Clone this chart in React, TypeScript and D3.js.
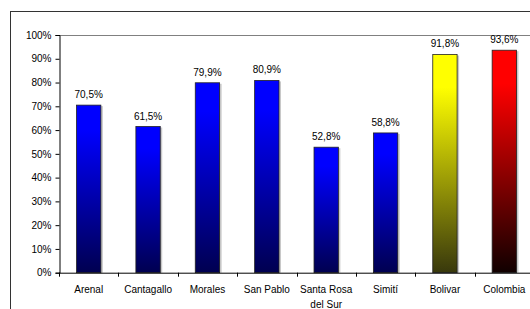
import { useEffect, useRef } from 'react';
import * as d3 from 'd3';

const categories = ['Arenal', 'Cantagallo', 'Morales', 'San Pablo', 'Santa Rosa del Sur', 'Simití', 'Bolivar', 'Colombia'];
const values = [70.5, 61.5, 79.9, 80.9, 52.8, 58.8, 91.8, 93.6];
const barKinds = ['blue', 'blue', 'blue', 'blue', 'blue', 'blue', 'yellow', 'red'];
const yTicks = [0, 10, 20, 30, 40, 50, 60, 70, 80, 90, 100];

const gradients: Record<string, [string, string]> = {
  blue: ['#0000ff', '#000050'],
  yellow: ['#ffff00', '#38380c'],
  red: ['#ff0000', '#100000'],
};

export default function App() {
  const ref = useRef<SVGSVGElement>(null);

  useEffect(() => {
    if (!ref.current) return;
    const svg = d3.select(ref.current);
    svg.selectAll('*').remove();

    const width = 530;
    const height = 309;
    const plot = { left: 59, top: 35, right: 534, bottom: 272.7 };

    const defs = svg.append('defs');
    Object.entries(gradients).forEach(([k, [top, bottom]]) => {
      const g = defs.append('linearGradient')
        .attr('id', `grad-${k}`)
        .attr('x1', 0).attr('y1', 0).attr('x2', 0).attr('y2', 1);
      g.append('stop').attr('offset', '0%').attr('stop-color', top);
      g.append('stop').attr('offset', '15%').attr('stop-color', top);
      g.append('stop').attr('offset', '100%').attr('stop-color', bottom);
    });

    svg.append('rect').attr('width', width).attr('height', height).attr('fill', '#fff');

    // outer chart frame
    svg.append('rect')
      .attr('x', 10.5).attr('y', 11.5)
      .attr('width', 600).attr('height', 400)
      .attr('fill', 'none').attr('stroke', '#333').attr('stroke-width', 1);

    const x = d3.scaleBand<string>()
      .domain(categories)
      .range([plot.left, plot.right])
      .paddingInner(0.59)
      .paddingOuter(0.295);

    const y = d3.scaleLinear().domain([0, 100]).range([plot.bottom, plot.top]);

    // plot area border (top)
    svg.append('line')
      .attr('x1', plot.left).attr('x2', width)
      .attr('y1', plot.top + 0.5).attr('y2', plot.top + 0.5)
      .attr('stroke', '#808080');

    // bar shadows
    svg.selectAll('rect.shadow')
      .data(values)
      .enter()
      .append('rect')
      .attr('class', 'shadow')
      .attr('x', (_, i) => x(categories[i])! + 2)
      .attr('y', d => y(d) + 1)
      .attr('width', x.bandwidth())
      .attr('height', d => y(0) - y(d) - 1)
      .attr('fill', '#c8c8c8');

    // bars
    svg.selectAll('rect.bar')
      .data(values)
      .enter()
      .append('rect')
      .attr('class', 'bar')
      .attr('x', (_, i) => x(categories[i])!)
      .attr('y', d => y(d))
      .attr('width', x.bandwidth())
      .attr('height', d => y(0) - y(d))
      .attr('fill', (_, i) => `url(#grad-${barKinds[i]})`)
      .attr('stroke', '#222')
      .attr('stroke-width', 0.8);

    // value labels
    svg.selectAll('text.val')
      .data(values)
      .enter()
      .append('text')
      .attr('class', 'val')
      .attr('x', (_, i) => x(categories[i])! + x.bandwidth() / 2)
      .attr('y', d => y(d) - 7)
      .attr('text-anchor', 'middle')
      .attr('font-family', 'Liberation Sans, Arial, sans-serif')
      .attr('font-size', 10)
      .attr('fill', '#000')
      .text(d => d.toFixed(1).replace('.', ',') + '%');

    // y axis
    const yAxis = svg.append('g')
      .attr('transform', `translate(${plot.left + 0.5},0)`)
      .call(d3.axisLeft(y).tickValues(yTicks).tickSize(4).tickPadding(4).tickFormat(d => `${d}%`));
    yAxis.select('.domain').attr('stroke', '#000');
    yAxis.selectAll('line').attr('stroke', '#000');
    yAxis.selectAll('text')
      .attr('font-family', 'Liberation Sans, Arial, sans-serif')
      .attr('font-size', 10)
      .attr('fill', '#000');

    // x axis line + ticks at band boundaries
    const g = svg.append('g');
    g.append('line')
      .attr('x1', plot.left).attr('x2', width)
      .attr('y1', plot.bottom + 0.5).attr('y2', plot.bottom + 0.5)
      .attr('stroke', '#000');
    const step = x.step();
    categories.forEach((c, i) => {
      const bx = Math.round(plot.left + i * step) + 0.5;
      g.append('line')
        .attr('x1', bx).attr('x2', bx)
        .attr('y1', plot.bottom).attr('y2', plot.bottom + 4)
        .attr('stroke', '#000');
      const cx = x(c)! + x.bandwidth() / 2;
      const words = c === 'Santa Rosa del Sur' ? ['Santa Rosa', 'del Sur'] : [c];
      words.forEach((w, j) => {
        g.append('text')
          .attr('x', cx)
          .attr('y', plot.bottom + 20 + j * 15)
          .attr('text-anchor', 'middle')
          .attr('font-family', 'Liberation Sans, Arial, sans-serif')
          .attr('font-size', 10)
          .attr('fill', '#000')
          .text(w);
      });
    });
  }, []);

  return (
    <div style={{ position: 'absolute', left: 0, top: 0 }}>
      <svg ref={ref} width={530} height={309} style={{ display: 'block' }}></svg>
    </div>
  );
}
